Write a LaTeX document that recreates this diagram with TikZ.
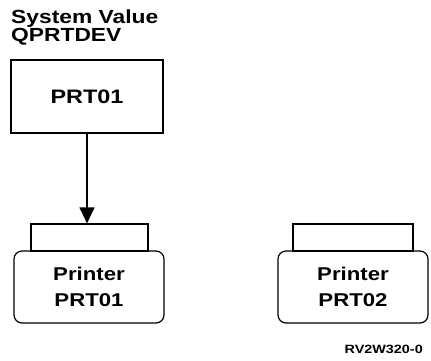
\documentclass[tikz,border=0pt]{standalone}
\usepackage{fontspec}
\setmainfont{Liberation Sans}[FakeStretch=1.2]
\usetikzlibrary{arrows.meta}
\begin{document}
\begin{tikzpicture}[x=1pt,y=-1pt,
  every node/.style={font=\bfseries},
  box/.style={draw, line width=1.2pt, inner sep=0pt, align=center, font=\bfseries\fontsize{18.5}{26}\selectfont},
  tabbox/.style={draw, line width=1.2pt, inner sep=0pt},
  conn/.style={line width=1.2pt, -{Triangle[length=16pt,width=15pt]}}]
\useasboundingbox (0,0) rectangle (431,360);
\node[anchor=north west, inner sep=0pt, align=left, font=\bfseries\fontsize{19}{18}\selectfont] (title) at (11,9.5) {System Value\\QPRTDEV};
\node[box, minimum width=152pt, minimum height=73pt, font=\bfseries\fontsize{19.5}{26}\selectfont] (q) at (87,96.5) {PRT01};
\node[tabbox, minimum width=117pt, minimum height=27pt] (tab1) at (89.5,237.5) {};
\node[box, rounded corners=8pt, minimum width=150pt, minimum height=72pt] (p1) at (89,287) {Printer\\PRT01};
\node[tabbox, minimum width=120pt, minimum height=27pt] (tab2) at (353,237.5) {};
\node[box, rounded corners=8pt, minimum width=150pt, minimum height=72pt] (p2) at (353,287) {Printer\\PRT02};
\node[anchor=base east, inner sep=0pt, font=\bfseries\fontsize{12}{12}\selectfont] (code) at (423,353) {RV2W320-0};
\draw[conn] (q.south) -- (q.south |- tab1.north);
\end{tikzpicture}
\end{document}
